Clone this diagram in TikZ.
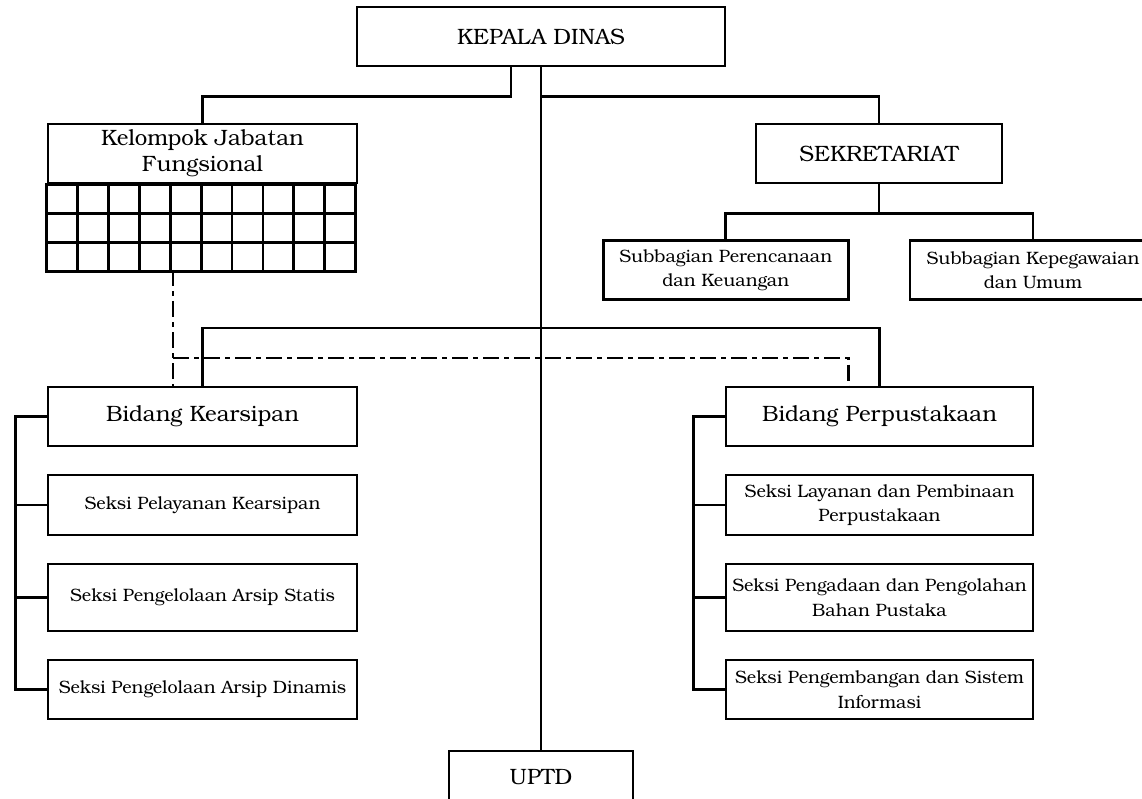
\documentclass[tikz,border=0pt]{standalone}
\usepackage{fontspec}
\setmainfont{texgyrebonum}[Extension=.otf, UprightFont=*-regular]
\usetikzlibrary{positioning}

\tikzset{
  unit/.style={draw, line width=2.8pt, align=center, inner sep=0pt,
    minimum height=59pt, font=\fontsize{22.2}{26}\selectfont},
  seksi/.style={unit, minimum width=309pt, font=\fontsize{17.9}{24.5}\selectfont},
  link/.style={line width=2.8pt},
  koord/.style={line width=2.8pt, dash pattern=on 16pt off 5pt on 5pt off 5pt}
}

\begin{document}
\begin{tikzpicture}[x=1pt, y=-1pt]
        \useasboundingbox (0,0) rectangle (1142,799);

        \node[unit, minimum width=368pt] (kadis) at (541,36.5) {KEPALA DINAS};
        \node[unit, minimum width=309pt] (kjf) at (202.5,153.5) {Kelompok Jabatan\\Fungsional};
        \node[unit, minimum width=246pt] (sekre) at (879,153.5) {SEKRETARIAT};

        \node[seksi, minimum width=245pt] (sub1) at (725.7,270) {Subbagian Perencanaan\\dan Keuangan};
        \node[seksi, minimum width=246pt] (sub2) at (1033,270) {Subbagian Kepegawaian\\dan Umum};

        \node[unit, minimum width=309pt] (bidA) at (202.5,416.5) {Bidang Kearsipan};
        \node[seksi, minimum height=60pt] (sA1) at (202.5,505) {Seksi Pelayanan Kearsipan};
        \node[seksi, minimum height=67pt] (sA2) at (202.5,597.5) {Seksi Pengelolaan Arsip Statis};
        \node[seksi] (sA3) at (202.5,689.5) {Seksi Pengelolaan Arsip Dinamis};

        \node[unit, minimum width=307pt] (bidP) at (879.5,416.5) {Bidang Perpustakaan};
        \node[seksi, minimum width=307pt, minimum height=60pt] (sP1) at (879.5,505) {Seksi Layanan dan Pembinaan\\Perpustakaan};
        \node[seksi, minimum width=307pt, minimum height=67pt] (sP2) at (879.5,597.5) {Seksi Pengadaan dan Pengolahan\\Bahan Pustaka};
        \node[seksi, minimum width=307pt] (sP3) at (879.5,689.5) {Seksi Pengembangan dan Sistem\\Informasi};

        \node[unit, minimum width=184pt, minimum height=52pt] (uptd) at (541,777) {UPTD};

        % kotak fungsional
        \draw[link] (kjf.south west) rectangle ++(309,87);
        \foreach \i in {1,...,9}
          \draw[link] ([xshift=\i*30.9pt]kjf.south west) -- ++(0,87);
        \foreach \j in {29,58}
          \draw[link] ([yshift=-\j pt]kjf.south west) -- ++(309,0);
        \coordinate (kjfFoot) at (173,270);

        % garis komando
        \draw[link] (kadis.south) -- (uptd.north);
        \draw[link] ([xshift=-30pt]kadis.south) -- ++(0,29) -| (kjf.north);
        \draw[link] (kadis.south) ++(0,29) -| (sekre.north);
        \draw[link] (sekre.south) -- ++(0,29) -| (sub1.north);
        \draw[link] (sekre.south) ++(0,29) -| (sub2.north);
        \coordinate (busMid) at (541,328);
        \draw[link] (bidA.north) |- (busMid) -| (bidP.north);

        \foreach \n in {sA1,sA2,sA3}
          \draw[link] (bidA.west) -- ++(-31,0) |- (\n.west);
        \foreach \n in {sP1,sP2,sP3}
          \draw[link] (bidP.west) -- ++(-31,0) |- (\n.west);

        % garis koordinasi
        \draw[koord] (kjfFoot) -- (kjfFoot |- bidA.north);
        \draw[koord] (kjfFoot |- 0,358) -| ([xshift=-31pt]bidP.north);

    \end{tikzpicture}
\end{document}
